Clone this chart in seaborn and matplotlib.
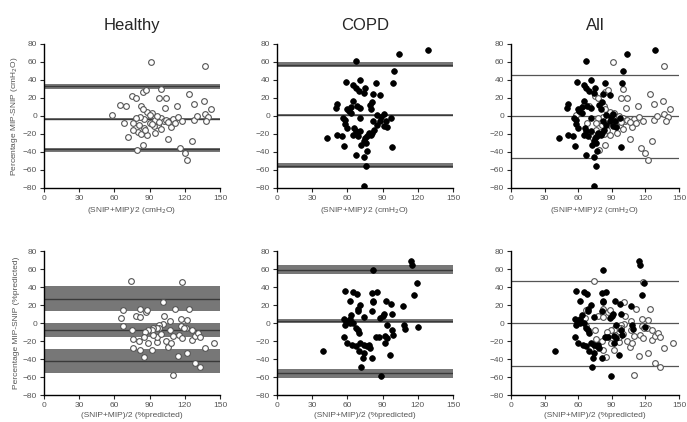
import matplotlib
matplotlib.use("Agg")
import matplotlib.pyplot as plt
import pandas as pd
import numpy as np
import seaborn as sns

# Healthy, cmH2O (open circles)
healthy_top_x = [91, 137, 58, 65, 70, 75, 78, 84, 87, 100, 98, 104, 103, 113, 124, 128, 136, 142, 137, 140,
                 138, 128, 126, 120, 116, 122, 84, 79, 85, 106, 108, 95, 88, 72, 68, 80, 76, 83, 85, 88,
                 92, 90, 95, 97, 100, 102, 94, 110, 114, 118, 112, 83, 84, 82, 78, 76, 81, 86, 92, 98,
                 104, 100, 106, 90, 96, 130]
healthy_top_y = [60, 55, 1, 12, 11, 22, 20, 27, 29, 30, 20, 20, 9, 11, 24, 13, 17, 8, 2, -1,
                 -6, -4, -28, -41, -36, -49, -32, -38, -13, -25, -12, -19, -21, -23, -8, -18, -16, -20, -3, 4,
                 3, -8, -4, -10, -2, -6, -11, -3, -1, -5, -8, 11, 8, -1, -2, -8, -10, -16, -9, -7,
                 -4, -14, -7, 1, 0, 0]

# COPD, cmH2O (filled circles)
copd_top_x = [67, 129, 104, 100, 99, 59, 71, 65, 67, 75, 74, 84, 82, 88, 81, 79, 65, 63, 68, 71,
              51, 50, 61, 91, 89, 88, 85, 83, 81, 80, 91, 94, 97, 93, 56, 58, 60, 51, 55, 43,
              65, 67, 66, 69, 71, 74, 76, 72, 77, 78, 75, 57, 67, 74, 77, 98, 76, 74, 60, 58,
              71, 80, 70, 63, 82, 85]
copd_top_y = [61, 73, 69, 50, 37, 38, 40, 35, 31, 31, 26, 37, 25, 23, 16, 12, 17, 10, 11, 9,
              13, 9, 6, 2, -1, -6, -10, -15, -19, -21, -11, -12, -2, -6, -2, -9, -13, -21, -22, -24,
              -21, -17, -13, -22, -17, -28, -30, -32, -22, -19, -24, -33, -43, -45, -39, -34, -56, -78, 8, -4,
              -2, 8, 28, 3, -5, 1]

# Healthy, %predicted (open circles)
healthy_bot_x = [74, 118, 67, 66, 67, 78, 82, 82, 87, 88, 101, 102, 112, 124, 117, 122, 121, 107, 101, 98,
                 98, 96, 93, 92, 89, 86, 85, 81, 76, 76, 82, 85, 92, 89, 96, 104, 106, 107, 108, 115,
                 114, 122, 126, 129, 131, 133, 129, 133, 110, 137, 145, 117, 119, 126, 96, 100, 93, 110, 75, 118]
healthy_bot_y = [47, 46, 14, 6, -3, 8, 7, 16, 12, 14, 23, 8, 16, 16, 5, 3, -6, 2, -1, -2,
                 -5, -6, -5, -8, -8, -10, -15, -20, -18, -28, -30, -38, -30, -22, -21, -20, -27, -8, -22, -13,
                 -37, -33, -19, -14, -11, -16, -44, -49, -58, -28, -22, -3, -5, -8, -16, -12, -13, -14, -8, -17]

# COPD, %predicted (filled circles)
copd_bot_x = [114, 115, 82, 119, 117, 58, 65, 68, 62, 71, 69, 69, 81, 85, 82, 82, 81, 93, 97, 98,
              90, 88, 91, 107, 63, 62, 57, 59, 58, 62, 65, 67, 69, 70, 57, 60, 64, 67, 71, 74,
              77, 78, 79, 70, 74, 73, 81, 96, 72, 89, 39, 84, 87, 92, 92, 94, 98, 99, 94, 108,
              109, 120, 74]
copd_bot_y = [69, 64, 59, 45, 31, 36, 34, 32, 24, 20, 16, 13, 33, 35, 25, 23, 13, 24, 21, 10,
              8, 6, 10, 19, 9, 5, 4, 2, -2, 0, 0, -6, -8, -11, -16, -22, -24, -25, -22, -24,
              -26, -24, -28, -31, -33, -39, -39, -36, -49, -59, -31, -15, -16, -14, -22, -17, -8, -13, -2, -2,
              -7, -4, 7]

# limits of agreement bands (low, high, centre) and "All" lines
healthy_top_bands = [(30, 36, 33), (-4, -2, -3), (-40, -35, -37)]
copd_top_bands = [(54, 60, 57), (0, 2, 1), (-58, -52, -55)]
all_top_lines = [46, 0, -47]
healthy_bot_bands = [(13, 41, 27), (-16, 0, -8), (-56, -29, -42)]
copd_bot_bands = [(54, 64, 59), (0, 4, 2), (-61, -51, -56)]
all_bot_lines = [47, 0, -48]

titles = ["Healthy", "COPD", "All"]
x_ticks = [0, 30, 60, 90, 120, 150]
y_ticks = [-80, -60, -40, -20, 0, 20, 40, 60, 80]

sns.set_style("ticks")
plt.rcParams["font.family"] = ["Liberation Sans", "DejaVu Sans"]

fig = plt.figure(figsize=(6.87, 4.22), dpi=100)
lefts = [44 / 687, 277 / 687, 511 / 687]
widths = [176 / 687, 176 / 687, 168 / 687]
bottoms = [(422 - 188) / 422, (422 - 395) / 422]
h = 144 / 422

def scatter(ax, x, y, filled):
    d = pd.DataFrame({"x": x, "y": y})
    if filled:
        sns.scatterplot(data=d, x="x", y="y", ax=ax, color="black", edgecolor="black", s=17, linewidth=0.5, zorder=4)
    else:
        sns.scatterplot(data=d, x="x", y="y", ax=ax, color="white", edgecolor="#555555", s=17, linewidth=0.8, zorder=3)

def bands(ax, bl):
    for lo, hi, c in bl:
        ax.axhspan(lo, hi, color="#777777", lw=0, zorder=1)
        ax.axhline(c, color="#3a3a3a", lw=1, zorder=2)

def lines(ax, ll):
    for v in ll:
        ax.axhline(v, color="#555555", lw=0.9, zorder=2)

rows = [
    (healthy_top_x, healthy_top_y, copd_top_x, copd_top_y, healthy_top_bands, copd_top_bands, all_top_lines,
     "(SNIP+MIP)/2 (cmH$_2$O)", "Percentage MIP-SNIP (cmH$_2$O)"),
    (healthy_bot_x, healthy_bot_y, copd_bot_x, copd_bot_y, healthy_bot_bands, copd_bot_bands, all_bot_lines,
     "(SNIP+MIP)/2 (%predicted)", "Percentage MIP-SNIP (%predicted)"),
]

for r, (hx, hy, cx, cy, hb, cb, al, xl, yl) in enumerate(rows):
    for c in range(3):
        ax = fig.add_axes([lefts[c], bottoms[r], widths[c], h])
        if c == 0:
            bands(ax, hb)
            scatter(ax, hx, hy, False)
        elif c == 1:
            bands(ax, cb)
            scatter(ax, cx, cy, True)
        else:
            lines(ax, al)
            scatter(ax, hx, hy, False)
            scatter(ax, cx, cy, True)
        ax.set_xlim(0, 150)
        ax.set_ylim(-80, 80)
        ax.set_xticks(x_ticks)
        ax.set_yticks(y_ticks)
        ax.tick_params(axis="both", labelsize=6, labelcolor="#555555", length=3, width=0.8, direction="out", pad=2)
        for s in ["left", "bottom"]:
            ax.spines[s].set_linewidth(1)
            ax.spines[s].set_color("black")
        sns.despine(ax=ax)
        ax.set_xlabel(xl, fontsize=6, color="#555555", labelpad=2)
        ax.set_ylabel(yl if c == 0 else "", fontsize=6, color="#555555", labelpad=2)
        if r == 0:
            ax.set_title(titles[c], fontsize=12, pad=10)

fig.savefig("out.png", dpi=100)
